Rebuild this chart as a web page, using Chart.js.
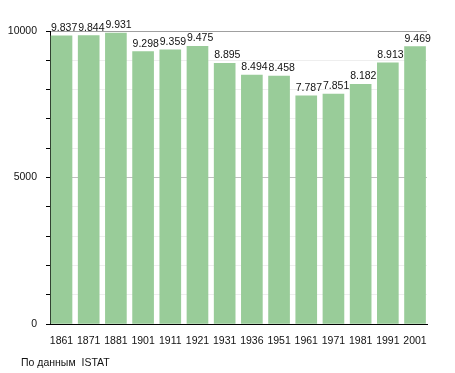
<!DOCTYPE html>
<html>
<head>
<meta charset="utf-8">
<script src="https://cdn.jsdelivr.net/npm/chart.js"></script>
<style>
  body { margin: 0; background: #fff; }
  canvas { display: block; }
</style>
</head>
<body>
<canvas id="popChart" width="455" height="373"></canvas>
<script>
var years = ["1861", "1871", "1881", "1901", "1911", "1921", "1931", "1936", "1951", "1961", "1971", "1981", "1991", "2001"];
var population = [9837, 9844, 9931, 9298, 9359, 9475, 8895, 8494, 8458, 7787, 7851, 8182, 8913, 9469];
var yTicks = [0, 5000, 10000];
var sourceNote = "По данным  ISTAT";

var barColor = "#99cc99";
var font = "Liberation Sans, Arial, sans-serif";

function fmt(v) {
    var s = String(v % 1000);
    while (s.length < 3) s = "0" + s;
    return Math.floor(v / 1000) + "." + s;
}

// value labels, left aligned on each bar
var valueLabels = {
    id: "valueLabels",
    afterDatasetsDraw: function (chart) {
        var ctx = chart.ctx;
        var meta = chart.getDatasetMeta(0);
        ctx.save();
        ctx.font = "10.5px " + font;
        ctx.fillStyle = "#111";
        ctx.textAlign = "left";
        ctx.textBaseline = "alphabetic";
        meta.data.forEach(function (bar, i) {
            ctx.fillText(fmt(population[i]), bar.x - bar.width / 2, bar.y - 5);
        });
        ctx.restore();
    }
};

var footNote = {
    id: "footNote",
    afterDraw: function (chart) {
        var ctx = chart.ctx;
        ctx.save();
        ctx.font = "10.5px " + font;
        ctx.fillStyle = "#111";
        ctx.textAlign = "left";
        ctx.fillText(sourceNote, 21, 366);
        ctx.restore();
    }
};

new Chart("popChart", {
    type: "bar",
    data: {
        datasets: [{
            backgroundColor: barColor,
            borderWidth: 0,
            barThickness: 21,
            data: population.map(function (v, i) { return { x: i, y: v }; })
        }]
    },
    options: {
        responsive: false,
        animation: false,
        devicePixelRatio: 1,
        layout: { padding: { left: 0, top: 31, right: 28, bottom: 0 } },
        plugins: {
            legend: { display: false },
            tooltip: { enabled: false }
        },
        scales: {
            x: {
                type: "linear",
                offset: false,
                min: -0.423,
                max: 13.44,
                afterBuildTicks: function (axis) {
                    axis.ticks = years.map(function (y, i) { return { value: i }; });
                },
                afterFit: function (axis) { axis.height = 49; },
                grid: { display: false },
                border: { display: true, color: "#000", width: 1 },
                ticks: {
                    autoSkip: false,
                    maxRotation: 0,
                    padding: 3,
                    color: "#111",
                    font: { family: font, size: 10.5 },
                    callback: function (v) { return years[v]; }
                }
            },
            y: {
                min: 0,
                max: 10000,
                afterFit: function (axis) { axis.width = 50; },
                border: { display: true, color: "#000", width: 1 },
                grid: {
                    drawTicks: true,
                    tickLength: 4,
                    tickColor: "#000",
                    color: function (c) {
                        var v = c.tick ? c.tick.value : null;
                        if (v === 10000) return "#a0a0a0";
                        if (v === 5000) return "#c0c0c0";
                        return "#eeeeee";
                    }
                },
                ticks: {
                    stepSize: 1000,
                    padding: 9,
                    color: "#111",
                    font: { family: font, size: 10.5 },
                    callback: function (v) { return yTicks.indexOf(v) >= 0 ? String(v) : ""; }
                }
            }
        }
    },
    plugins: [valueLabels, footNote]
});
</script>
</body>
</html>
